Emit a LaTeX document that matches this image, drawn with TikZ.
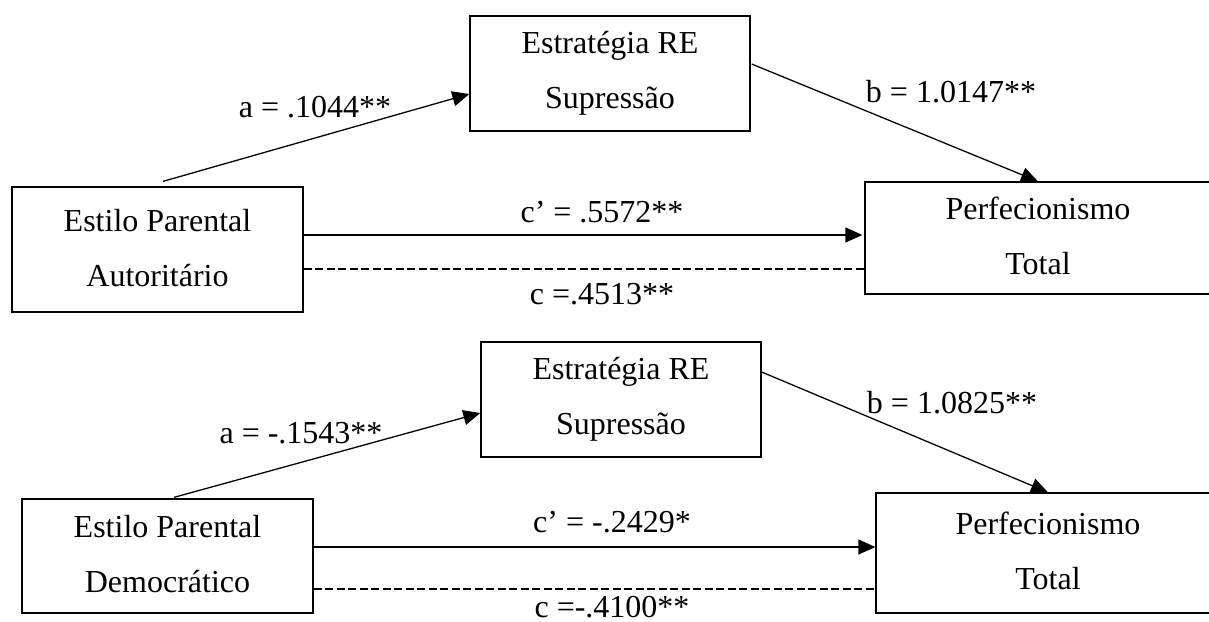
\documentclass[tikz,border=0pt]{standalone}
\usepackage{fontspec}
\setmainfont{Liberation Serif}
\usetikzlibrary{arrows.meta}
\newcommand{\twoline}[2]{\rule{0pt}{11pt}#1\\#2\rule[-2pt]{0pt}{2pt}}
\begin{document}
\begin{tikzpicture}[x=0.5pt,y=-0.5pt,
  box/.style={draw, line width=0.65pt, inner sep=0pt, align=center, font=\fontsize{16pt}{27.5pt}\selectfont},
  lbl/.style={inner sep=0pt, anchor=base, font=\fontsize{16pt}{19pt}\selectfont},
  arr/.style={line width=0.65pt, -{Triangle[length=8.5pt,width=7.5pt]}},
  dsh/.style={line width=0.65pt, dash pattern=on 4pt off 1.75pt}]
\useasboundingbox (0,0) rectangle (1209,621);
\clip (0,0) rectangle (1209,621);

% ---------- top model ----------
\node[box, minimum width=145.5pt, minimum height=62.5pt] (A) at (157.5,249.5) {\twoline{Estilo Parental}{Autoritário}};
\node[box, minimum width=140pt, minimum height=57.5pt] (M1) at (610,73.5) {\twoline{Estratégia RE}{Supressão}};
\node[box, minimum width=173pt, minimum height=56pt] (Y1) at (1038,238) {\twoline{Perfecionismo}{Total}};

\draw[arr] ([shift={(5.5,-5)}]A.north) -- ([shift={(0,20.5)}]M1.west);
\draw[arr] ([shift={(1,-9.5)}]M1.east) -- (Y1.north);
\coordinate (c1) at ([shift={(0,-14.5)}]A.east);
\draw[arr] (c1) -- ([xshift=-1pt]c1 -| Y1.west);
\coordinate (d1) at ([shift={(0,19.5)}]A.east);
\draw[dsh] (d1) -- (d1 -| Y1.west);

\node[lbl] (la1) at (315,117) {a = .1044**};
\node[lbl] (lb1) at (951,102) {b = 1.0147**};
\node[lbl] (lc1) at (602,222) {c’ = .5572**};
\node[lbl] (ld1) at (602,304) {c =.4513**};

% ---------- bottom model ----------
\node[box, minimum width=145.5pt, minimum height=57pt] (A2) at (167.5,556) {\twoline{Estilo Parental}{Democrático}};
\node[box, minimum width=140pt, minimum height=57.5pt] (M2) at (621,399.5) {\twoline{Estratégia RE}{Supressão}};
\node[box, minimum width=172pt, minimum height=60pt] (Y2) at (1048,553) {\twoline{Perfecionismo}{Total}};

\draw[arr] ([shift={(6.5,-1)}]A2.north) -- ([shift={(0,13.5)}]M2.west);
\draw[arr] ([shift={(0,-27.5)}]M2.east) -- (Y2.north);
\coordinate (c2) at ([shift={(0,-9)}]A2.east);
\draw[arr] (c2) -- (c2 -| Y2.west);
\coordinate (d2) at ([shift={(0,33)}]A2.east);
\draw[dsh] (d2) -- (d2 -| Y2.west);

\node[lbl] (la2) at (301,443) {a = -.1543**};
\node[lbl] (lb2) at (952,413) {b = 1.0825**};
\node[lbl] (lc2) at (612,532) {c’ = -.2429*};
\node[lbl] (ld2) at (612,617) {c =-.4100**};
\end{tikzpicture}
\end{document}
